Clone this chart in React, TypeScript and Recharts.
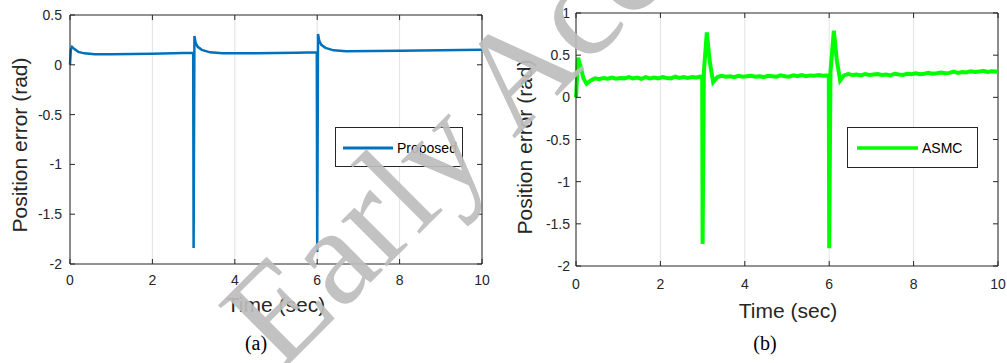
import { LineChart, Line, XAxis, YAxis, CartesianGrid, ReferenceLine, Legend } from "recharts";

// (a) Proposed controller
const proposedTime = [0, 0.02, 0.05, 0.1, 0.2, 0.35, 0.6, 1, 2, 2.99, 3.0, 3.02, 3.05, 3.1, 3.2, 3.4, 3.7, 4.5, 5.5, 5.99, 6.0, 6.02, 6.05, 6.1, 6.2, 6.4, 6.7, 8, 10];
const proposedError = [0, 0.15, 0.18, 0.16, 0.13, 0.115, 0.105, 0.105, 0.11, 0.12, -1.84, 0.29, 0.22, 0.18, 0.15, 0.125, 0.115, 0.115, 0.12, 0.125, -1.88, 0.31, 0.24, 0.2, 0.17, 0.145, 0.135, 0.14, 0.15];

// (b) ASMC
const asmcTime = [
  0, 0.05, 0.1, 0.18, 0.25, 0.35,
  0.45, 0.55, 0.65, 0.75, 0.85, 0.95, 1.05, 1.15, 1.25, 1.35, 1.45, 1.55, 1.65, 1.75, 1.85, 1.95, 2.05, 2.15, 2.25, 2.35, 2.45, 2.55, 2.65, 2.75, 2.85, 2.95,
  2.99, 3.0, 3.03, 3.1, 3.17, 3.25,
  3.35, 3.45, 3.55, 3.65, 3.75, 3.85, 3.95, 4.05, 4.15, 4.25, 4.35, 4.45, 4.55, 4.65, 4.75, 4.85, 4.95, 5.05, 5.15, 5.25, 5.35, 5.45, 5.55, 5.65, 5.75, 5.85, 5.95,
  5.99, 6.0, 6.03, 6.11, 6.18, 6.26,
  6.35, 6.45, 6.55, 6.65, 6.75, 6.85, 6.95, 7.05, 7.15, 7.25, 7.35, 7.45, 7.55, 7.65, 7.75, 7.85, 7.95, 8.05, 8.15, 8.25, 8.35, 8.45, 8.55, 8.65, 8.75, 8.85, 8.95, 9.05, 9.15, 9.25, 9.35, 9.45, 9.55, 9.65, 9.75, 9.85, 9.95, 10,
];
const asmcError = [
  0, 0.47, 0.38, 0.22, 0.16, 0.2,
  0.225, 0.215, 0.23, 0.22, 0.235, 0.22, 0.23, 0.225, 0.24, 0.225, 0.235, 0.22, 0.24, 0.225, 0.235, 0.225, 0.24, 0.23, 0.225, 0.245, 0.23, 0.24, 0.23, 0.24, 0.235, 0.245,
  0.24, -1.74, 0.3, 0.77, 0.42, 0.18,
  0.24, 0.255, 0.245, 0.25, 0.24, 0.255, 0.245, 0.25, 0.255, 0.245, 0.25, 0.24, 0.255, 0.25, 0.245, 0.26, 0.25, 0.245, 0.26, 0.25, 0.265, 0.25, 0.26, 0.255, 0.265, 0.255, 0.26,
  0.26, -1.79, 0.3, 0.79, 0.44, 0.2,
  0.26, 0.275, 0.265, 0.27, 0.26, 0.275, 0.265, 0.27, 0.275, 0.265, 0.27, 0.26, 0.28, 0.27, 0.265, 0.28, 0.275, 0.285, 0.275, 0.28, 0.29, 0.28, 0.285, 0.295, 0.285, 0.29, 0.305, 0.29, 0.3, 0.295, 0.31, 0.3, 0.305, 0.315, 0.3, 0.31, 0.305, 0.31,
];

const timeTicks = [0, 2, 4, 6, 8, 10];
const proposedTicks = [-2, -1.5, -1, -0.5, 0, 0.5];
const asmcTicks = [-2, -1.5, -1, -0.5, 0, 0.5, 1];

const proposedData = proposedTime.map((t, i) => ({ t, e: proposedError[i] }));
const asmcData = asmcTime.map((t, i) => ({ t, e: asmcError[i] }));

const AXIS = "#262626";
const GRID = "#e2e2e2";
const SANS = '"Liberation Sans", Arial, Helvetica, sans-serif';
const SERIF = '"Liberation Serif", "Times New Roman", serif';

// MATLAB style: ticks point inward, mirrored on the opposite side
function makeYTick(plotW: number, gap: number) {
  return (props: any) => {
    const { x, y, payload } = props;
    return (
      <g>
        <line x1={x} x2={x + 5} y1={y} y2={y} stroke={AXIS} />
        <line x1={x + plotW - 5} x2={x + plotW} y1={y} y2={y} stroke={AXIS} />
        <text x={x - gap} y={y + 5} textAnchor="end" fontSize={14} fill={AXIS} fontFamily={SANS}>
          {payload.value}
        </text>
      </g>
    );
  };
}

function makeXTick(plotH: number, below: number) {
  return (props: any) => {
    const { x, y, payload } = props;
    return (
      <g>
        <line x1={x} x2={x} y1={y} y2={y - 5} stroke={AXIS} />
        <line x1={x} x2={x} y1={y - plotH} y2={y - plotH + 5} stroke={AXIS} />
        <text x={x} y={y + below} textAnchor="middle" fontSize={14} fill={AXIS} fontFamily={SANS}>
          {payload.value}
        </text>
      </g>
    );
  };
}

function makeLegend(w: number, h: number, x1: number, x2: number, strokeWidth: number) {
  return (props: any) => {
    const item = props.payload && props.payload[0];
    if (!item) return null;
    return (
      <svg width={w} height={h} style={{ display: "block" }}>
        <rect x={0.5} y={0.5} width={w - 1} height={h - 1} fill="#fff" stroke={AXIS} />
        <line x1={x1} x2={x2} y1={21} y2={21} stroke={item.color} strokeWidth={strokeWidth} />
        <text x={x2 + 4} y={26} fontSize={14} fill="#000" fontFamily={SANS}>
          {item.value}
        </text>
      </svg>
    );
  };
}

export default function App() {
  return (
    <div style={{ position: "absolute", left: 0, top: 0, width: 1007, height: 363, background: "#fff", overflow: "hidden" }}>
      <div style={{ position: "absolute", left: 0, top: 0 }}>
        <LineChart width={500} height={363} data={proposedData} margin={{ top: 15, right: 18, bottom: 69, left: 10 }}>
          <CartesianGrid horizontal={false} stroke={GRID} />
          <XAxis
            dataKey="t"
            type="number"
            domain={[0, 10]}
            ticks={timeTicks}
            interval={0}
            height={30}
            tickSize={0}
            tickMargin={0}
            tickLine={false}
            axisLine={{ stroke: AXIS }}
            tick={makeXTick(249, 21)}
          />
          <YAxis
            type="number"
            domain={[-2, 0.5]}
            ticks={proposedTicks}
            interval={0}
            width={60}
            tickSize={0}
            tickMargin={0}
            tickLine={false}
            axisLine={{ stroke: AXIS }}
            tick={makeYTick(412, 8)}
          />
          <ReferenceLine y={0.5} stroke={AXIS} />
          <ReferenceLine x={10} stroke={AXIS} />
          <Legend
            layout="vertical"
            align="center"
            verticalAlign="middle"
            wrapperStyle={{ left: 335, top: 127, width: 128, height: 40 }}
            content={makeLegend(128, 40, 8, 58, 3)}
          />
          <Line
            name="Proposed"
            dataKey="e"
            type="linear"
            stroke="#0072BD"
            strokeWidth={2.5}
            dot={false}
            isAnimationActive={false}
          />
        </LineChart>
      </div>

      <div style={{ position: "absolute", left: 506, top: 0 }}>
        <LineChart width={500} height={363} data={asmcData} margin={{ top: 13, right: 8, bottom: 67, left: 10 }}>
          <CartesianGrid horizontal={false} stroke={GRID} />
          <XAxis
            dataKey="t"
            type="number"
            domain={[0, 10]}
            ticks={timeTicks}
            interval={0}
            height={30}
            tickSize={0}
            tickMargin={0}
            tickLine={false}
            axisLine={{ stroke: AXIS }}
            tick={makeXTick(253, 23)}
          />
          <YAxis
            type="number"
            domain={[-2, 1]}
            ticks={asmcTicks}
            interval={0}
            width={60}
            tickSize={0}
            tickMargin={0}
            tickLine={false}
            axisLine={{ stroke: AXIS }}
            tick={makeYTick(422, 6)}
          />
          <ReferenceLine y={1} stroke={AXIS} />
          <ReferenceLine x={10} stroke={AXIS} />
          <Legend
            layout="vertical"
            align="center"
            verticalAlign="middle"
            wrapperStyle={{ left: 341, top: 127, width: 131, height: 41 }}
            content={makeLegend(131, 41, 10, 71, 3.5)}
          />
          <Line
            name="ASMC"
            dataKey="e"
            type="linear"
            stroke="#00FF00"
            strokeWidth={4}
            dot={false}
            isAnimationActive={false}
          />
        </LineChart>
      </div>

      {/* axis titles, captions and the watermark */}
      <svg width={1007} height={363} style={{ position: "absolute", left: 0, top: 0, pointerEvents: "none" }}>
        <g fontFamily={SANS} fontSize={21} fill={AXIS} textAnchor="middle">
          <text transform="translate(27,145) rotate(-90)">Position error (rad)</text>
          <text transform="translate(532,147) rotate(-90)">Position error (rad)</text>
          <text x={276} y={312}>Time (sec)</text>
          <text x={788} y={318}>Time (sec)</text>
        </g>
        <g fontFamily={SERIF} fontSize={20} fill="#000" textAnchor="middle">
          <text x={256} y={350}>(a)</text>
          <text x={765} y={350}>(b)</text>
        </g>
        <text
          transform="translate(280,373) rotate(-45)"
          fontFamily={SERIF}
          fontSize={140}
          fill="#bdbdbd"
          opacity={0.92}
        >
          Early Access
        </text>
      </svg>
    </div>
  );
}
